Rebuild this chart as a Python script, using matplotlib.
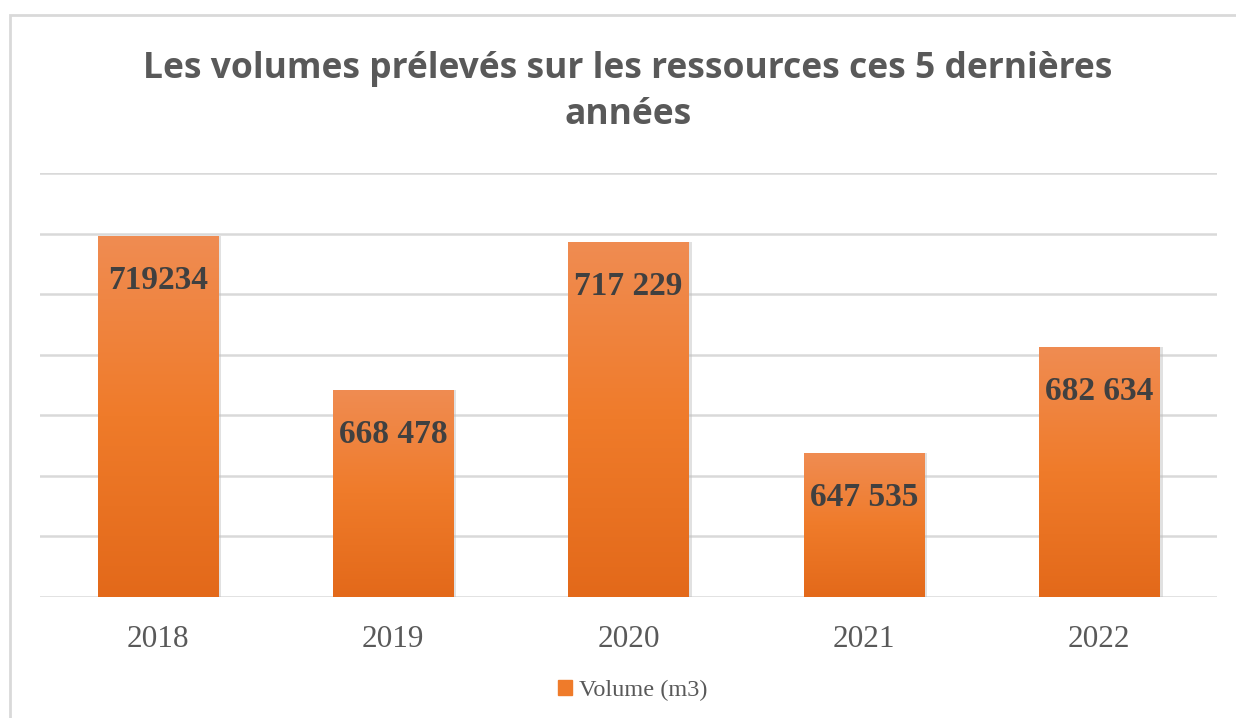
import numpy as np
import matplotlib
matplotlib.use("Agg")
import matplotlib.pyplot as plt
from matplotlib.colors import LinearSegmentedColormap
from matplotlib.patches import Rectangle

# Data
years = ["2018", "2019", "2020", "2021", "2022"]
volumes = [719234, 668478, 717229, 647535, 682634]
labels = ["719234", "668 478", "717 229", "647 535", "682 634"]

title = "Les volumes prélevés sur les ressources ces 5 dernières\nannées"
legend_label = "Volume (m3)"

fig = plt.figure(figsize=(12.36, 7.18), dpi=100)
ax = fig.add_axes([0.0324, 0.1685, 0.9522, 0.5905])

# light frame around the chart (Excel style)
fig.patches.append(Rectangle((10 / 1236, -0.1), 1.2, 1 - 15 / 718 + 0.1,
                             transform=fig.transFigure, fill=False,
                             edgecolor="#D9D9D9", linewidth=2))

ymin, ymax = 600000, 740000
ax.set_ylim(ymin, ymax)
ax.set_xlim(-0.5, len(years) - 0.5)
ax.set_yticks(np.arange(ymin, ymax + 1, 20000))
ax.yaxis.grid(True, color="#D9D9D9", linewidth=1.8)
ax.set_axisbelow(True)
ax.tick_params(axis="y", left=False, labelleft=False)
ax.tick_params(axis="x", bottom=False, pad=17)
for s in ax.spines.values():
    s.set_visible(False)

x = np.arange(len(years))
width = 0.51

# soft shadow behind bars
ax.bar(x + 0.008, np.array(volumes) - ymin, width=width + 0.012, bottom=ymin,
       color="#BDBDBD", alpha=0.45, zorder=2)

bars = ax.bar(x, np.array(volumes) - ymin, width=width, bottom=ymin,
              color="#EF7D2E", zorder=3, label=legend_label)

# vertical gradient fill in each bar
cmap = LinearSegmentedColormap.from_list(
    "orange", ["#E3691A", "#EF7B2A", "#F08C52"])
grad = np.linspace(0, 1, 256).reshape(-1, 1)
for b in bars:
    x0, y0 = b.get_x(), b.get_y()
    im = ax.imshow(grad, extent=[x0, x0 + b.get_width(), y0, y0 + b.get_height()],
                   origin="lower", aspect="auto", cmap=cmap, zorder=3.5)
    im.set_clip_path(b)

for xi, v, lab in zip(x, volumes, labels):
    ax.annotate(lab, (xi, v), xytext=(0, -32), textcoords="offset points",
                ha="center", va="center", fontsize=24, fontweight="bold",
                family="Liberation Serif", color="#404040", zorder=5)

ax.set_xticks(x)
ax.set_xticklabels(years, fontsize=22.5, family="Liberation Serif", color="#595959")

fig.text(0.508, 0.872, title, ha="center", va="center", fontsize=25.5,
         fontweight="bold", family="Open Sans", color="#595959",
         linespacing=1.35)

leg = fig.legend(handles=[Rectangle((0, 0), 1, 1, color="#EF7B2A")],
                 labels=[legend_label], loc="center", bbox_to_anchor=(0.512, 0.038),
                 frameon=False, handlelength=0.55, handleheight=0.55,
                 handletextpad=0.3, prop={"family": "Liberation Serif", "size": 17.5})
for t in leg.get_texts():
    t.set_color("#595959")

fig.savefig("out.png", dpi=100)
